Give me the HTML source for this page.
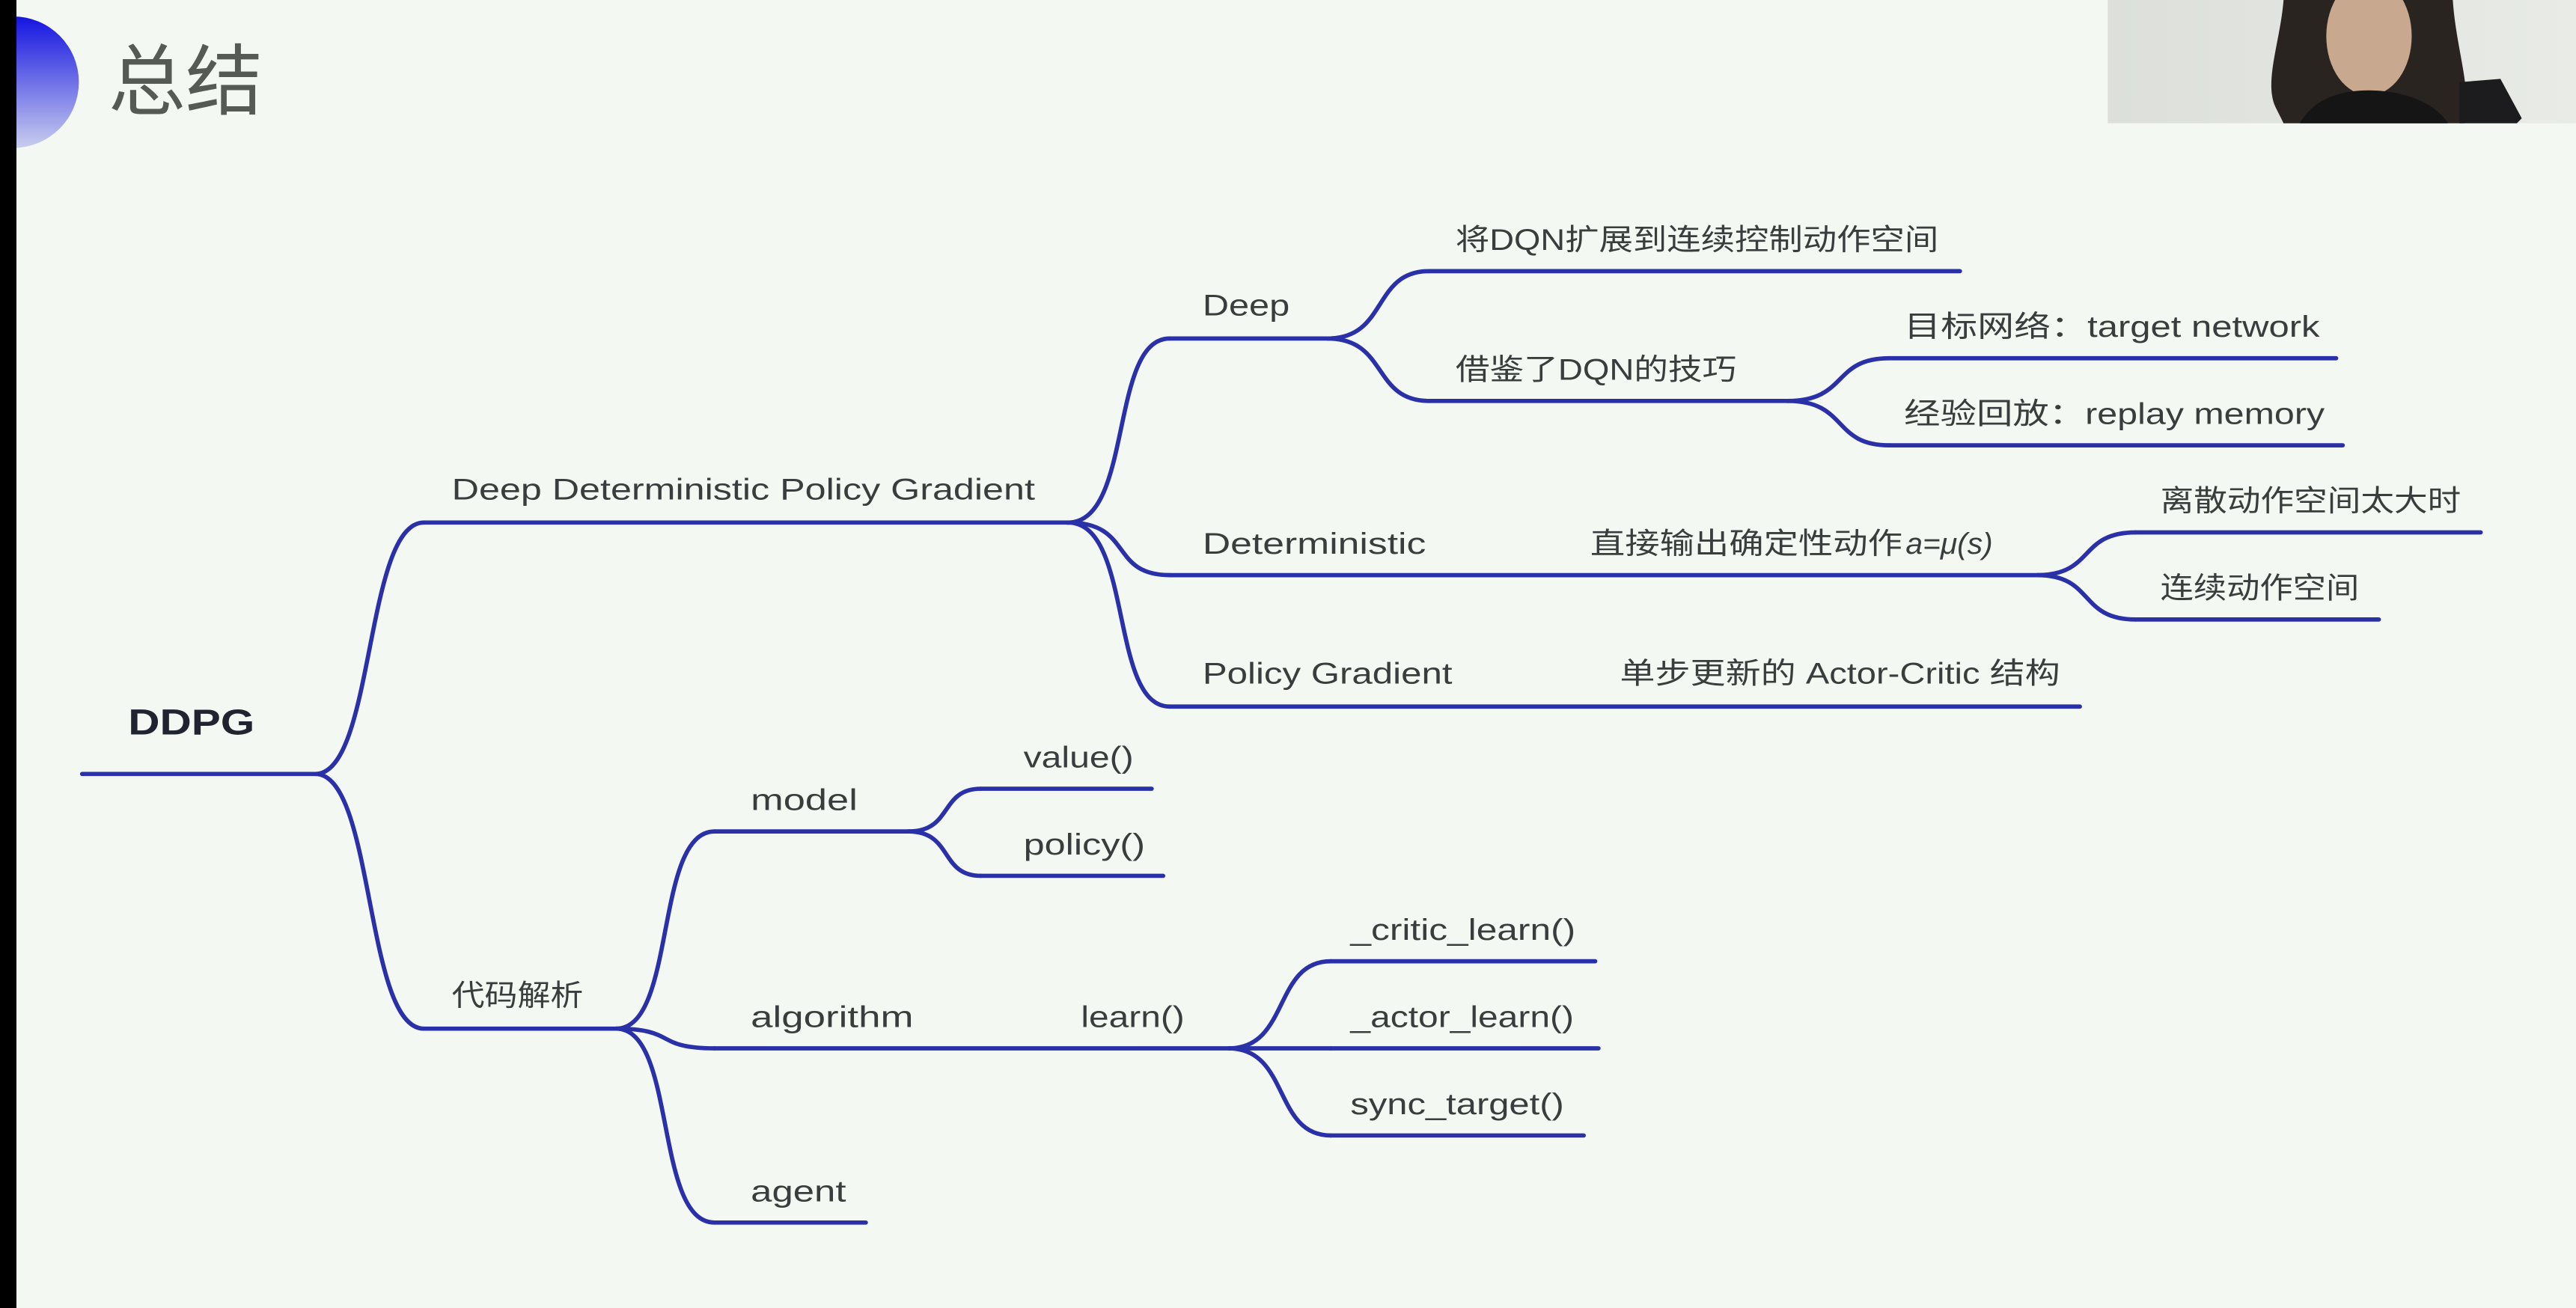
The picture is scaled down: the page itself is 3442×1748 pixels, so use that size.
<!DOCTYPE html>
<html><head><meta charset="utf-8"><style>
html,body{margin:0;padding:0;background:#f4f8f2;}
svg{display:block;}
text{font-family:"Liberation Sans","Noto Sans CJK SC",sans-serif;fill:#3a3d3d;}
</style></head><body>
<svg width="3442" height="1748" viewBox="0 0 1568 796" preserveAspectRatio="none" xmlns="http://www.w3.org/2000/svg">
<defs>
<linearGradient id="g" x1="0" y1="0" x2="0" y2="1">
<stop offset="0" stop-color="#1414e0"/><stop offset="1" stop-color="#c8cdee"/>
</linearGradient>
<linearGradient id="w" x1="0" y1="0" x2="1" y2="0">
<stop offset="0" stop-color="#dcdfda"/><stop offset="1" stop-color="#e8ebe6"/>
</linearGradient>
</defs>
<rect width="1568" height="796" fill="#f4f8f2"/>
<circle cx="8" cy="50" r="40" fill="url(#g)"/>
<rect x="0" y="0" width="10" height="796" fill="#000"/>
<text x="66" y="66" font-size="47" style="fill:#555a55">总结</text>

<!-- webcam -->
<rect x="1283" y="0" width="285" height="75" fill="url(#w)"/>
<path d="M1390,0 C1388,25 1378,50 1385,65 L1390,75 L1500,75 C1505,55 1495,30 1493,0 Z" fill="#2a2420"/>
<ellipse cx="1442" cy="22" rx="26" ry="36" fill="#c9a890"/>
<path d="M1400,75 C1408,60 1425,55 1442,55 C1462,55 1482,62 1490,75 Z" fill="#151515"/>
<path d="M1497,50 L1522,48 L1535,72 L1532,75 L1497,75 Z" fill="#1c1c1e"/>

<g fill="none" stroke="#2a30a8" stroke-width="2.6" stroke-linecap="round">
<line x1="50" y1="471" x2="192" y2="471"/>
<path d="M192,471 C228,471 222,318 258,318"/>
<path d="M192,471 C228,471 222,626 258,626"/>
<line x1="258" y1="318" x2="650" y2="318"/>
<line x1="258" y1="626" x2="375" y2="626"/>
<path d="M650,318 C690,318 675,206 712,206"/>
<path d="M650,318 C690,318 675,350 712,350"/>
<path d="M650,318 C690,318 675,430 712,430"/>
<line x1="712" y1="206" x2="808" y2="206"/>
<line x1="712" y1="350" x2="1240" y2="350"/>
<line x1="712" y1="430" x2="1266" y2="430"/>
<path d="M808,206 C845,206 835,165 870,165"/>
<path d="M808,206 C845,206 835,244 870,244"/>
<line x1="870" y1="165" x2="1193" y2="165"/>
<line x1="870" y1="244" x2="1088" y2="244"/>
<path d="M1088,244 C1125,244 1115,218 1150,218"/>
<path d="M1088,244 C1125,244 1115,271 1150,271"/>
<line x1="1150" y1="218" x2="1422" y2="218"/>
<line x1="1150" y1="271" x2="1426" y2="271"/>
<path d="M1240,350 C1275,350 1265,324 1300,324"/>
<path d="M1240,350 C1275,350 1265,377 1300,377"/>
<line x1="1300" y1="324" x2="1510" y2="324"/>
<line x1="1300" y1="377" x2="1448" y2="377"/>
<path d="M375,626 C412,626 398,506 435,506"/>
<path d="M375,626 C412,626 398,638 435,638"/>
<path d="M375,626 C412,626 398,744 435,744"/>
<line x1="435" y1="506" x2="553" y2="506"/>
<line x1="435" y1="638" x2="748" y2="638"/>
<line x1="435" y1="744" x2="527" y2="744"/>
<path d="M553,506 C580,506 572,480 597,480"/>
<path d="M553,506 C580,506 572,533 597,533"/>
<line x1="597" y1="480" x2="701" y2="480"/>
<line x1="597" y1="533" x2="708" y2="533"/>
<path d="M748,638 C785,638 775,585 810,585"/>
<path d="M748,638 C785,638 775,638 810,638"/>
<path d="M748,638 C785,638 775,691 810,691"/>
<line x1="810" y1="585" x2="971" y2="585"/>
<line x1="810" y1="638" x2="973" y2="638"/>
<line x1="810" y1="691" x2="964" y2="691"/>
</g>

<g font-size="18">
<text x="78" y="447" font-size="22" font-weight="bold" textLength="77" lengthAdjust="spacingAndGlyphs" style="fill:#1f2430">DDPG</text>
<text x="275" y="304" textLength="355" lengthAdjust="spacingAndGlyphs">Deep Deterministic Policy Gradient</text>
<text x="275" y="612" textLength="80" lengthAdjust="spacingAndGlyphs">代码解析</text>
<text x="732" y="192" textLength="53" lengthAdjust="spacingAndGlyphs">Deep</text>
<text x="732" y="337" textLength="136" lengthAdjust="spacingAndGlyphs">Deterministic</text>
<text x="732" y="416" textLength="152" lengthAdjust="spacingAndGlyphs">Policy Gradient</text>
<text x="968" y="337" textLength="190" lengthAdjust="spacingAndGlyphs">直接输出确定性动作</text>
<text x="1160" y="337" font-family="Liberation Serif" font-style="italic" textLength="53" lengthAdjust="spacingAndGlyphs">a=μ(s)</text>
<text x="986" y="416" textLength="268" lengthAdjust="spacingAndGlyphs">单步更新的 Actor-Critic 结构</text>
<text x="886" y="152" textLength="294" lengthAdjust="spacingAndGlyphs">将DQN扩展到连续控制动作空间</text>
<text x="886" y="231" textLength="171" lengthAdjust="spacingAndGlyphs">借鉴了DQN的技巧</text>
<text x="1159" y="205" textLength="253" lengthAdjust="spacingAndGlyphs">目标网络：target network</text>
<text x="1159" y="258" textLength="256" lengthAdjust="spacingAndGlyphs">经验回放：replay memory</text>
<text x="1315" y="311" textLength="183" lengthAdjust="spacingAndGlyphs">离散动作空间太大时</text>
<text x="1315" y="364" textLength="121" lengthAdjust="spacingAndGlyphs">连续动作空间</text>
<text x="457" y="493" textLength="65" lengthAdjust="spacingAndGlyphs">model</text>
<text x="457" y="625" textLength="99" lengthAdjust="spacingAndGlyphs">algorithm</text>
<text x="457" y="731" textLength="58" lengthAdjust="spacingAndGlyphs">agent</text>
<text x="658" y="625" textLength="63" lengthAdjust="spacingAndGlyphs">learn()</text>
<text x="623" y="467" textLength="67" lengthAdjust="spacingAndGlyphs">value()</text>
<text x="623" y="520" textLength="74" lengthAdjust="spacingAndGlyphs">policy()</text>
<text x="822" y="572" textLength="137" lengthAdjust="spacingAndGlyphs">_critic_learn()</text>
<text x="822" y="625" textLength="136" lengthAdjust="spacingAndGlyphs">_actor_learn()</text>
<text x="822" y="678" textLength="130" lengthAdjust="spacingAndGlyphs">sync_target()</text>
</g>
</svg>
</body></html>
